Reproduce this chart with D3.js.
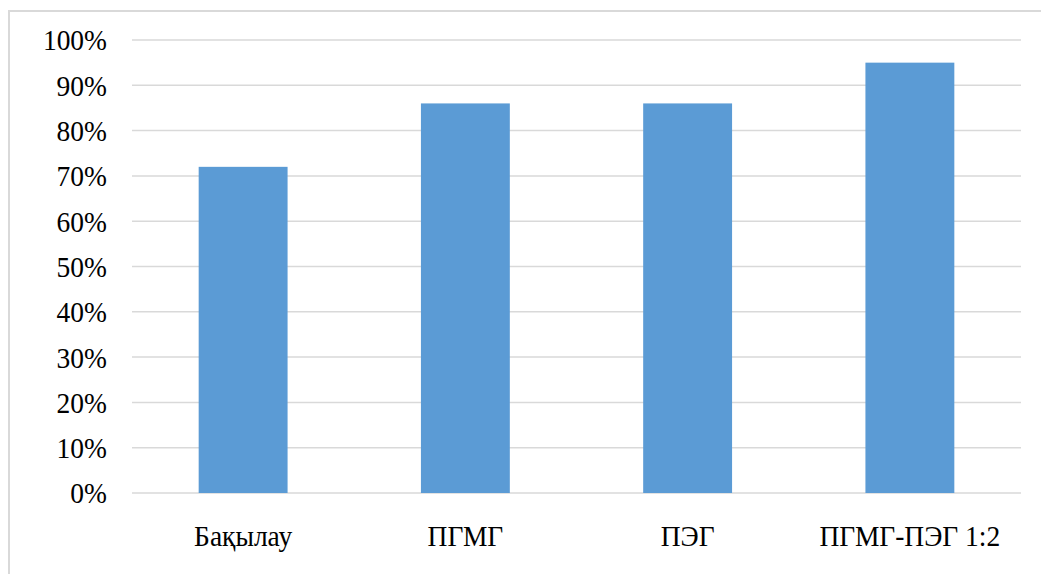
<!DOCTYPE html>
<html>
<head>
<meta charset="utf-8">
<script src="https://cdn.jsdelivr.net/npm/d3@7"></script>
<style>
  body { margin: 0; background: #fff; }
</style>
</head>
<body>
<div id="chart"></div>
<script>
'use strict';

// chart data
var categories = ['Бақылау', 'ПГМГ', 'ПЭГ', 'ПГМГ-ПЭГ 1:2'];
var values = [0.72, 0.86, 0.86, 0.95];
var tickValues = [0, 0.1, 0.2, 0.3, 0.4, 0.5, 0.6, 0.7, 0.8, 0.9, 1.0];

var width = 1041,
    height = 574,
    margin = {top: 40, right: 20, bottom: 81, left: 132},
    fontFamily = "'Liberation Serif', 'Times New Roman', serif",
    fontSize = '27.5px',
    // the source text is a bit taller than it is wide
    textStretch = 'scale(1,1.1)';

var svg = d3.select('#chart').append('svg')
    .attr('width', width)
    .attr('height', height);

// outer chart frame (right and bottom edges fall outside the picture)
svg.append('rect')
    .attr('x', 9)
    .attr('y', 11)
    .attr('width', 1100)
    .attr('height', 700)
    .attr('fill', 'none')
    .attr('stroke', '#d9d9d9')
    .attr('stroke-width', 2);

var x = d3.scaleBand()
    .domain(categories)
    .range([margin.left, width - margin.right])
    .paddingInner(0.6)
    .paddingOuter(0.3);

var y = d3.scaleLinear()
    .domain([0, 1])
    .range([height - margin.bottom, margin.top]);

// gridlines
svg.append('g')
    .selectAll('line')
    .data(tickValues)
    .enter().append('line')
    .attr('x1', x.range()[0])
    .attr('x2', x.range()[1])
    .attr('y1', function(d) { return y(d); })
    .attr('y2', function(d) { return y(d); })
    .attr('stroke', '#d9d9d9')
    .attr('stroke-width', 1.5);

// bars
svg.append('g')
    .selectAll('rect')
    .data(values)
    .enter().append('rect')
    .attr('x', function(d, i) { return x(categories[i]); })
    .attr('width', x.bandwidth())
    .attr('y', function(d) { return y(d); })
    .attr('height', function(d) { return y(0) - y(d); })
    .attr('fill', '#5b9bd5');

// y axis labels
var yAxis = svg.append('g')
    .attr('transform', 'translate(' + margin.left + ',0)')
    .call(d3.axisLeft(y)
        .tickValues(tickValues)
        .tickFormat(d3.format('.0%'))
        .tickSize(0)
        .tickPadding(25));
yAxis.attr('font-family', null).attr('font-size', null);
yAxis.select('.domain').remove();
yAxis.selectAll('text')
    .style('font-family', fontFamily)
    .style('font-size', fontSize)
    .attr('fill', '#000')
    .attr('dy', '0.33em')
    .attr('transform', textStretch);

// x axis labels
var xAxis = svg.append('g')
    .attr('transform', 'translate(0,' + y(0) + ')')
    .call(d3.axisBottom(x).tickSize(0).tickPadding(29));
xAxis.attr('font-family', null).attr('font-size', null);
xAxis.select('.domain').remove();
xAxis.selectAll('text')
    .style('font-family', fontFamily)
    .style('font-size', fontSize)
    .attr('fill', '#000')
    .attr('transform', textStretch);
</script>
</body>
</html>
